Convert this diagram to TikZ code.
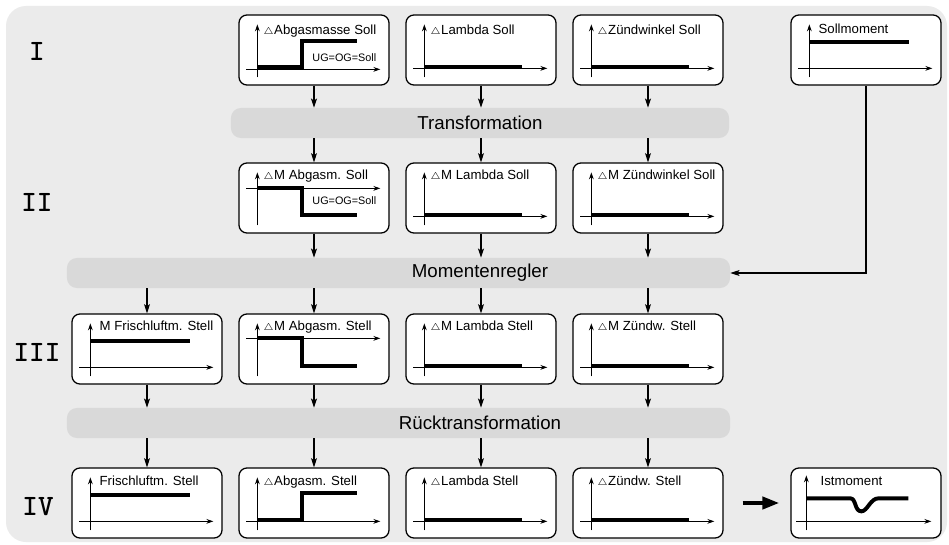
\documentclass[tikz,border=0pt]{standalone}
\usepackage{fontspec}
\newfontfamily\arial{Liberation Sans}
\usetikzlibrary{arrows.meta}
\definecolor{bgfill}{HTML}{EBEBEB}
\definecolor{barfill}{HTML}{D9D9D9}
\newcommand\dtri{\raisebox{0.2pt}{$\scriptstyle\triangle$}\kern0.4pt}
% axes of one small plot (y of the time axis as argument)
\newcommand\plotaxes[1]{%
  \draw[ax] (8,#1) -- (142,#1);
  \draw[ax] (19,63) -- (19,10);}
\begin{document}
\begin{tikzpicture}[x=0.025cm,y=-0.025cm,
    box/.style={draw,line width=0.9pt,rounded corners=0.2cm,fill=white,
      minimum width=3.75cm,minimum height=1.75cm,inner sep=0pt},
    bar/.style={fill=barfill,rounded corners=0.25cm,minimum height=0.75cm,inner sep=0pt},
    bartxt/.style={inner sep=0pt,font=\fontsize{13.3}{14}\arial},
    lbl/.style={anchor=base west,inner sep=0pt,font=\fontsize{9.4}{10}\arial},
    ug/.style={inner sep=0pt,font=\fontsize{7.7}{8}\arial},
    num/.style={inner sep=0pt,font=\fontsize{21}{21}\ttfamily\bfseries},
    ax/.style={line width=0.7pt,-{Stealth[length=5pt,width=3.4pt]}},
    sig/.style={line width=2.8pt,line join=miter},
    flow/.style={line width=0.75pt,-{Stealth[length=6.5pt,width=4.2pt,inset=1.4pt]}},
    fat/.style={line width=2.8pt,-{Triangle[length=12pt,width=8.5pt]}}]
  \useasboundingbox (0,0) rectangle (949,545);
  \fill[white] (0,0) rectangle (949,545);
  \fill[bgfill,rounded corners=0.5cm] (6,6) rectangle (947,542);

  % row numbers
  \node[num] (rI) at (37,51) {I};
  \node[num] (rII) at (37,202) {II};
  \node[num] (rIII) at (37,352) {III};
  \node[num] (rIV) at (38,507) {IV};

  % bars
  \node[bar,minimum width=12.45cm] (trans) at (480,123) {};
  \node[bartxt] (trans-t) at (480,123) {Transformation};
  \node[bar,minimum width=16.575cm] (regler) at (398.5,273) {};
  \node[bartxt] (regler-t) at (480,273) {Momentenregler};
  \node[bar,minimum width=16.575cm] (rtrans) at (398.5,423) {};
  \node[bartxt] (rtrans-t) at (480,423) {Rücktransformation};

  % boxes
  \node[box] (abgI) at (314,50) {};
  \node[box] (lamI) at (481,50) {};
  \node[box] (zwI) at (648,50) {};
  \node[box] (sollm) at (866,50) {};
  \node[box] (abgII) at (314,198) {};
  \node[box] (lamII) at (481,198) {};
  \node[box] (zwII) at (648,198) {};
  \node[box] (frIII) at (147,349) {};
  \node[box] (abgIII) at (314,349) {};
  \node[box] (lamIII) at (481,349) {};
  \node[box] (zwIII) at (648,349) {};
  \node[box] (frIV) at (147,503) {};
  \node[box] (abgIV) at (314,503) {};
  \node[box] (lamIV) at (481,503) {};
  \node[box] (zwIV) at (648,503) {};
  \node[box] (istm) at (866,503) {};

  % flat signals
  \foreach \b/\t/\y in {lamI/{\dtri Lambda Soll}/20, zwI/{\dtri Zündwinkel Soll}/20,
      lamII/{\dtri M Lambda Soll}/17, zwII/{\dtri M Zündwinkel Soll}/17,
      lamIII/{\dtri M Lambda Stell}/17, zwIII/{\dtri M Zündw. Stell}/17,
      lamIV/{\dtri Lambda Stell}/18, zwIV/{\dtri Zündw. Stell}/18} {
    \begin{scope}[shift={(\b.north west)}]
      \plotaxes{54}
      \draw[sig] (19,53) -- (117,53);
      \node[lbl] (\b-l) at (25,\y) {\t};
    \end{scope}
  }

  % constant signals
  \foreach \b/\t/\y in {sollm/{Sollmoment}/19, frIII/{M Frischluftm. Stell}/17,
      frIV/{Frischluftm. Stell}/18} {
    \begin{scope}[shift={(\b.north west)}]
      \plotaxes{54}
      \draw[sig] (19,28) -- (119,28);
      \node[lbl] (\b-l) at (28,\y) {\t};
    \end{scope}
  }

  % steps
  \begin{scope}[shift={(abgI.north west)}]
    \plotaxes{55}
    \draw[sig] (19,53) -- (64,53) -- (64,27) -- (119,27);
    \node[lbl] (abgI-l) at (25,20) {\dtri Abgasmasse Soll};
    \node[ug] (abgI-u) at (106,43) {UG=OG=Soll};
  \end{scope}
  \begin{scope}[shift={(abgII.north west)}]
    \plotaxes{26}
    \draw[sig] (19,26) -- (64,26) -- (64,53) -- (119,53);
    \node[lbl] (abgII-l) at (25,17) {\dtri M Abgasm. Soll};
    \node[ug] (abgII-u) at (106,38) {UG=OG=Soll};
  \end{scope}
  \begin{scope}[shift={(abgIII.north west)}]
    \plotaxes{25}
    \draw[sig] (19,25) -- (64,25) -- (64,53) -- (119,53);
    \node[lbl] (abgIII-l) at (25,17) {\dtri M Abgasm. Stell};
  \end{scope}
  \begin{scope}[shift={(abgIV.north west)}]
    \plotaxes{54}
    \draw[sig] (19,53) -- (64,53) -- (64,26) -- (119,26);
    \node[lbl] (abgIV-l) at (25,18) {\dtri Abgasm. Stell};
  \end{scope}
  \begin{scope}[shift={(istm.north west)}]
    \draw[ax] (6,54) -- (141,54);
    \draw[ax] (16,63) -- (16,8);
    \draw[sig,line join=round] (16,31) -- (60,31) .. controls (66,31) and (64,44) .. (71,44)
      .. controls (77,44) and (80,31) .. (88,31) -- (118,31);
    \node[lbl] (istm-l) at (30,18) {Istmoment};
  \end{scope}

  % connections
  \foreach \b in {abgI,lamI,zwI}
    \draw[flow] (\b.south) -- (\b.south |- trans.north);
  \foreach \b in {abgII,lamII,zwII} {
    \draw[flow] (\b.north |- trans.south) -- (\b.north);
    \draw[flow] (\b.south) -- (\b.south |- regler.north);
  }
  \foreach \b in {frIII,abgIII,lamIII,zwIII} {
    \draw[flow] (\b.north |- regler.south) -- (\b.north);
    \draw[flow] (\b.south) -- (\b.south |- rtrans.north);
  }
  \foreach \b in {frIV,abgIV,lamIV,zwIV}
    \draw[flow] (\b.north |- rtrans.south) -- (\b.north);
  \draw[flow] (sollm.south) |- (regler.east);
  \draw[fat] ([xshift=0.475cm]zwIV.east) -- ([xshift=-0.275cm]istm.west);
\end{tikzpicture}
\end{document}
